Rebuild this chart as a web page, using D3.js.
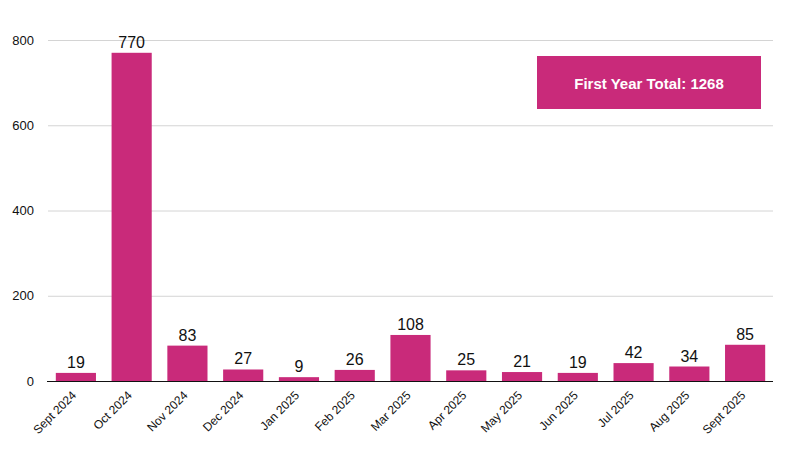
<!DOCTYPE html>
<html><head><meta charset="utf-8">
<script src="https://cdn.jsdelivr.net/npm/d3@7"></script>
<style>body{margin:0;background:#fff}svg{display:block}text{font-family:"Liberation Sans",Arial,Helvetica,sans-serif}</style>
</head><body>
<script>
const months = ["Sept 2024","Oct 2024","Nov 2024","Dec 2024","Jan 2025","Feb 2025","Mar 2025","Apr 2025","May 2025","Jun 2025","Jul 2025","Aug 2025","Sept 2025"];
const counts = [19,770,83,27,9,26,108,25,21,19,42,34,85];
const yTicks = [0,200,400,600,800];
const totalLabel = "First Year Total: 1268";

(function(){
const W=805,H=475, mLeft=48, mRight=773, mTop=40, mBottom=381;
const color="#c92a7a";
const svg=d3.select("body").append("svg").attr("width",W).attr("height",H);
const x=d3.scaleBand().domain(months).range([mLeft,mRight]).paddingInner(0.28).paddingOuter(0.14);
const y=d3.scaleLinear().domain([0,800]).range([mBottom,mTop]);

// grid
svg.append("g").selectAll("line").data(yTicks.filter(d=>d>0)).join("line")
  .attr("x1",mLeft).attr("x2",mRight).attr("y1",d=>y(d)+0.5).attr("y2",d=>y(d)+0.5)
  .attr("stroke","#d4d4d4").attr("stroke-width",1);
// y labels
const ya=d3.axisLeft(y).tickValues(yTicks).tickSize(0).tickPadding(14);
const yg=svg.append("g").attr("transform",`translate(${mLeft},0)`).call(ya);
yg.select(".domain").remove();
yg.selectAll("text").attr("font-size",13).attr("fill","#111").attr("font-family","Liberation Sans, Arial, sans-serif");

// bars
svg.append("g").selectAll("rect").data(counts).join("rect")
  .attr("x",(d,i)=>x(months[i])).attr("width",x.bandwidth())
  .attr("y",d=>y(d)).attr("height",d=>mBottom-y(d)).attr("fill",color);
// value labels
svg.append("g").selectAll("text").data(counts).join("text")
  .attr("x",(d,i)=>x(months[i])+x.bandwidth()/2).attr("y",d=>y(d)-5)
  .attr("text-anchor","middle").attr("font-size",16).attr("fill","#111").text(d=>d);

// x axis
const xa=d3.axisBottom(x).tickSize(0).tickPadding(0);
const xg=svg.append("g").attr("transform",`translate(0,${mBottom})`).call(xa);
xg.select(".domain").remove();
xg.selectAll("text").attr("font-size",12).attr("fill","#111").attr("font-family","Liberation Sans, Arial, sans-serif")
  .attr("text-anchor","end").attr("dy",null).attr("y",null)
  .attr("transform","translate(1,15) rotate(-45)");
svg.append("line").attr("x1",mLeft-1).attr("x2",mRight).attr("y1",mBottom+0.5).attr("y2",mBottom+0.5)
  .attr("stroke","#111").attr("stroke-width",1.2);

// total box
svg.append("rect").attr("x",537).attr("y",56).attr("width",224).attr("height",53).attr("fill",color);
svg.append("text").attr("x",649).attr("y",89).attr("text-anchor","middle").attr("font-size",15)
  .attr("font-weight","bold").attr("fill","#fff").text(totalLabel);
})();
</script>
</body></html>
